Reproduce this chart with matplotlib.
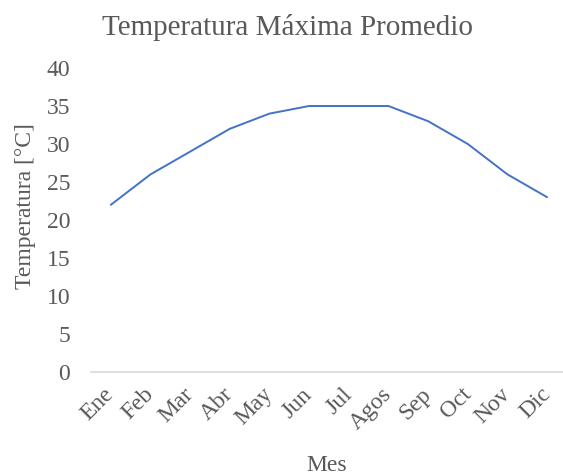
import matplotlib
matplotlib.use("Agg")
import matplotlib.pyplot as plt

meses = ["Ene", "Feb", "Mar", "Abr", "May", "Jun", "Jul", "Agos", "Sep", "Oct", "Nov", "Dic"]
temp_max = [22, 26, 29, 32, 34, 35, 35, 35, 33, 30, 26, 23]
y_ticks = [0, 5, 10, 15, 20, 25, 30, 35, 40]

W, H = 563, 475
plt.rcParams["font.family"] = ["Liberation Serif", "DejaVu Serif"]
gray = "#595959"

fig = plt.figure(figsize=(W / 100, H / 100), dpi=100)
ax = fig.add_axes([91 / W, (H - 372) / H, (W - 91) / W, (372 - 68) / H])

x = list(range(len(meses)))
ax.plot(x, temp_max, color="#4472C4", linewidth=1.4, solid_capstyle="round")

ax.set_xlim(-0.5, 11.4)
ax.set_ylim(0, 40)
ax.set_yticks(y_ticks)
ax.set_yticklabels([str(v) for v in y_ticks])
ax.set_xticks(x)
ax.set_xticklabels(meses, rotation=45, ha="right", va="center", rotation_mode="anchor")

for s in ("top", "right", "left"):
    ax.spines[s].set_visible(False)
ax.spines["bottom"].set_color("#D9D9D9")
ax.spines["bottom"].set_linewidth(1.2)

ax.tick_params(axis="y", length=0, pad=15, labelsize=17, labelcolor=gray)
ax.tick_params(axis="x", length=0, pad=14, labelsize=17, labelcolor=gray)

fig.text(287 / W, 1 - 35 / H, "Temperatura Máxima Promedio", ha="center", va="baseline",
         fontsize=21, color=gray)
fig.text(327 / W, 1 - 471 / H, "Mes", ha="center", va="baseline", fontsize=17, color=gray)
fig.text(31 / W, 1 - 206 / H, "Temperatura [°C]", ha="center", va="baseline", rotation=90,
         rotation_mode="anchor", fontsize=17, color=gray)

fig.savefig("out.png", dpi=100)
